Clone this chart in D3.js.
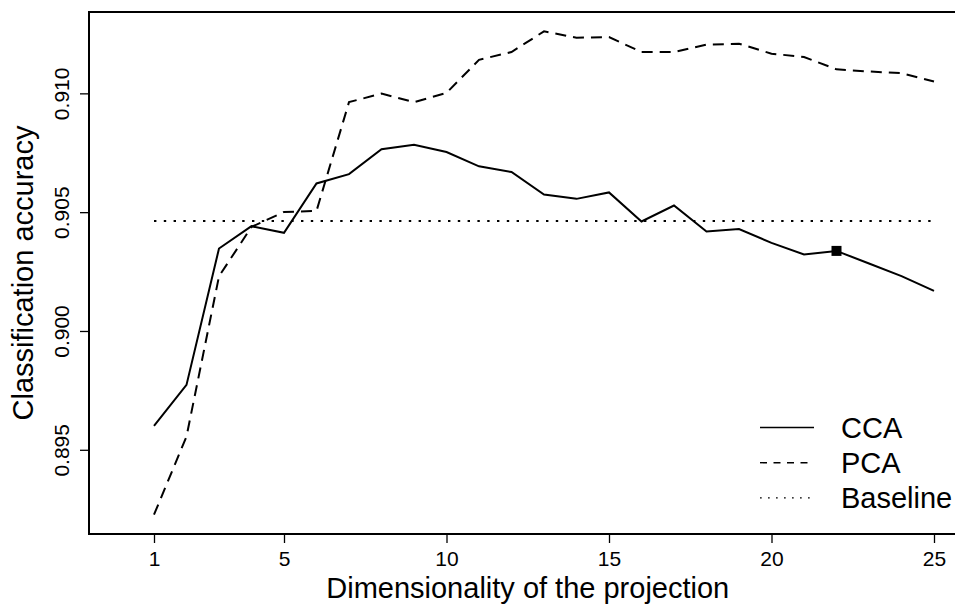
<!DOCTYPE html>
<html>
<head>
<meta charset="utf-8">
<script src="https://cdn.jsdelivr.net/npm/d3@7"></script>
<style>
  body { margin: 0; background: #fff; }
  text { font-family: "Liberation Sans", Arial, sans-serif; fill: #000; }
</style>
</head>
<body>
<div id="chart"></div>
<script>

// dimensionality of the projection
var dims = [1, 2, 3, 4, 5, 6, 7, 8, 9, 10, 11, 12, 13, 14, 15, 16, 17, 18, 19, 20, 21, 22, 23, 24, 25]

// classification accuracy per method
var cca = [0.89601, 0.89773, 0.90347, 0.90441, 0.90413, 0.90621, 0.90660, 0.90765, 0.90784, 0.90753,
           0.90693, 0.90669, 0.90574, 0.90556, 0.90583, 0.90461, 0.90528, 0.90419, 0.90429, 0.90371,
           0.90322, 0.90337, 0.90284, 0.90231, 0.90169]
var pca = [0.89227, 0.89556, 0.90230, 0.90438, 0.90501, 0.90505, 0.90963, 0.90999, 0.90963, 0.91002,
           0.91141, 0.91174, 0.91261, 0.91234, 0.91237, 0.91174, 0.91174, 0.91205, 0.91209, 0.91167,
           0.91153, 0.91101, 0.91092, 0.91085, 0.91050]
var baseline = 0.90463
var chosenDim = 22

var xTicks = [1, 5, 10, 15, 20, 25]
var yTicks = [0.895, 0.900, 0.905, 0.910]
var legendNames = ["CCA", "PCA", "Baseline"]

var W = 955, H = 604
// plot region (right side falls off the page)
var pl = 89, pr = 966.5, pt = 12, pb = 534

var svg = d3.select("#chart").append("svg")
    .attr("width", W)
    .attr("height", H)

// R style: x limits fixed, y limits = data range + 4%
var x = d3.scaleLinear().domain([-1, 26]).range([pl, pr])
var lo = d3.min(pca.concat(cca)), hi = d3.max(pca.concat(cca))
var pad = (hi - lo) * 0.04
var y = d3.scaleLinear().domain([lo - pad, hi + pad]).range([pb, pt])

// axes
var xAxis = svg.append("g")
    .attr("transform", "translate(0," + pb + ")")
    .call(d3.axisBottom(x).tickValues(xTicks).tickSize(9).tickSizeOuter(0).tickPadding(8.5))
xAxis.select(".domain").remove()
xAxis.selectAll("line").attr("stroke", "#000").attr("stroke-width", 1.3)
xAxis.selectAll("text").style("font-size", "21px").attr("fill", "#000")

var yAxis = svg.append("g")
    .attr("transform", "translate(" + pl + ",0)")
    .call(d3.axisLeft(y).tickValues(yTicks).tickSize(9).tickSizeOuter(0).tickFormat(d3.format(".3f")))
yAxis.select(".domain").remove()
yAxis.selectAll("line").attr("stroke", "#000").attr("stroke-width", 1.3)
yAxis.selectAll("text")
    .style("font-size", "21px")
    .attr("fill", "#000")
    .attr("text-anchor", "middle")
    .attr("dy", null)
    .attr("x", null)
    .attr("transform", "translate(-20,0) rotate(-90)")

// box round the plot region
svg.append("path")
    .attr("d", "M" + pr + "," + pt + "H" + pl + "V" + pb + "H" + pr + "Z")
    .attr("fill", "none")
    .attr("stroke", "#000")
    .attr("stroke-width", 2)

var line = d3.line()
    .x(function(d, i) { return x(dims[i]) })
    .y(function(d) { return y(d) })

svg.append("line")
    .attr("x1", x(dims[0])).attr("x2", x(dims[dims.length - 1]))
    .attr("y1", y(baseline)).attr("y2", y(baseline))
    .attr("stroke", "#000")
    .attr("stroke-width", 2)
    .attr("stroke-dasharray", "2.4,7.4")

svg.append("path")
    .datum(pca)
    .attr("d", line)
    .attr("fill", "none")
    .attr("stroke", "#000")
    .attr("stroke-width", 2)
    .attr("stroke-dasharray", "11,7")

svg.append("path")
    .datum(cca)
    .attr("d", line)
    .attr("fill", "none")
    .attr("stroke", "#000")
    .attr("stroke-width", 2)

// marker on the chosen dimension
svg.append("rect")
    .attr("x", x(chosenDim) - 5)
    .attr("y", y(cca[dims.indexOf(chosenDim)]) - 5)
    .attr("width", 10)
    .attr("height", 10)
    .attr("fill", "#000")

// axis titles
svg.append("text")
    .attr("x", (pl + pr) / 2)
    .attr("y", 597.5)
    .attr("text-anchor", "middle")
    .style("font-size", "29px")
    .text("Dimensionality of the projection")

svg.append("text")
    .attr("transform", "translate(33," + ((pt + pb) / 2) + ") rotate(-90)")
    .attr("text-anchor", "middle")
    .style("font-size", "29px")
    .text("Classification accuracy")

// legend, no frame
var dashes = [null, "7,6.5", "1.7,6.3"]
var lg = svg.selectAll(".legend_row")
    .data(legendNames)
    .enter()
    .append("g")
    .attr("class", "legend_row")
    .attr("transform", function(d, i) { return "translate(0," + (427.5 + i * 35.2) + ")" })

lg.append("line")
    .attr("x1", 760).attr("x2", 814)
    .attr("stroke", "#000")
    .attr("stroke-width", 1.4)
    .attr("stroke-dasharray", function(d, i) { return dashes[i] })

lg.append("text")
    .attr("x", 841)
    .attr("dy", "0.36em")
    .style("font-size", "29px")
    .text(function(d) { return d })

</script>
</body>
</html>
